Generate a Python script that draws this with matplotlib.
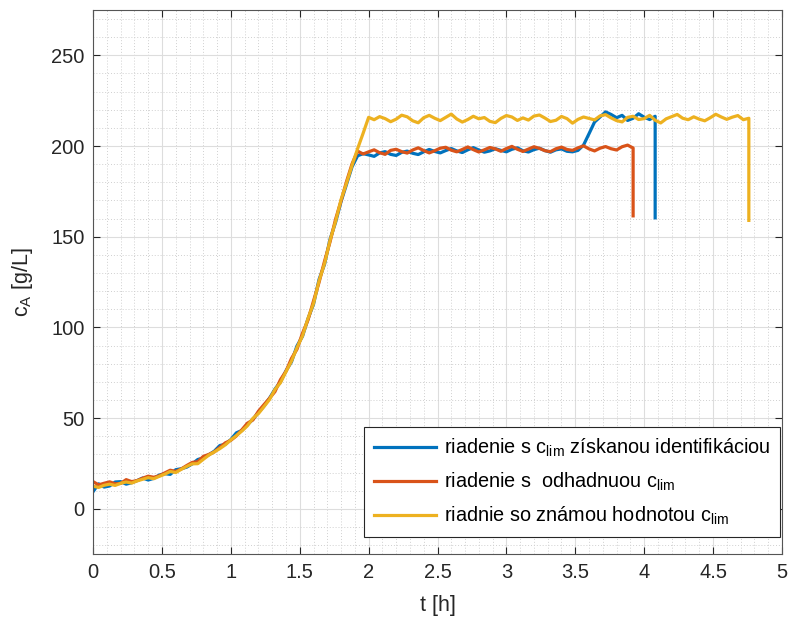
# Concentration c_A over time for three control strategies

import matplotlib.pyplot as plt
import numpy as np
from matplotlib.ticker import MultipleLocator

plt.rcParams["font.family"] = ["Liberation Sans", "DejaVu Sans"]
plt.rcParams["mathtext.fontset"] = "custom"
plt.rcParams["mathtext.rm"] = "Liberation Sans"
plt.rcParams["mathtext.it"] = "Liberation Sans"

dt = 0.04  # sampling step [h]

# riadenie s c_lim ziskanou identifikaciou
blue_vals = [
	9.5, 13.8, 12.0, 12.6, 14.8, 15.0, 13.6, 14.4, 15.6, 17.0,
	15.9, 16.8, 18.6, 19.4, 19.0, 21.6, 22.1, 23.0, 24.8, 27.2,
	28.1, 29.8, 31.8, 34.9, 35.6, 38.2, 41.9, 43.2, 46.3, 49.4,
	53.1, 56.6, 60.9, 66.0, 70.0, 76.1, 81.0, 89.8, 95.1, 104.8,
	112.8, 126.4, 134.8, 148.6, 157.9, 169.4, 179.0, 188.6,
	194.6, 195.8, 195.1, 194.3, 196.2, 196.9, 195.4, 194.8, 196.5, 197.2,
	196.0, 195.3, 196.8, 198.1, 197.0, 196.2, 197.5, 198.6, 197.3, 196.4,
	197.9, 199.1, 197.8, 196.6, 197.3, 198.5, 197.6, 196.8, 198.2, 199.0,
	197.4, 196.7, 198.0, 198.8, 197.5, 196.6, 197.9, 198.4, 197.1, 196.8, 197.6,
	200.5, 206.8, 213.2, 216.0, 218.8, 217.4, 215.6, 216.9, 214.1, 215.3,
	217.8, 215.9, 214.6, 216.4,
]
blue_drop = 160.4

# riadenie s odhadnuou c_lim
red_vals = [
	15.0, 13.2, 14.1, 14.9, 13.8, 14.0, 16.1, 15.0, 15.6, 16.9,
	18.0, 17.4, 18.2, 19.8, 21.3, 20.6, 22.0, 23.9, 25.6, 26.0,
	28.9, 30.0, 31.4, 33.9, 36.4, 37.8, 40.2, 43.6, 47.2, 49.0,
	53.8, 57.4, 60.9, 64.6, 71.2, 75.8, 82.9, 88.0, 96.8, 104.1,
	114.6, 124.8, 136.5, 147.2, 159.6, 169.8, 180.5, 190.2,
	197.2, 195.6, 196.8, 197.9, 196.3, 195.4, 197.6, 198.2, 196.9, 196.1,
	197.8, 199.0, 197.5, 196.2, 197.4, 198.8, 199.3, 197.7, 196.8, 198.1,
	199.5, 198.0, 196.7, 197.9, 199.2, 198.4, 197.1, 198.6, 199.8, 198.2,
	197.0, 198.3, 199.6, 198.7, 197.4, 196.9, 198.5, 199.4, 198.1, 197.6,
	199.0, 200.1, 198.4, 197.3, 198.8, 199.7, 198.5, 197.8, 199.6, 200.5, 198.9,
]
red_drop = 161.5

# riadnie so znamou hodnotou c_lim
yellow_vals = [
	12.5, 11.8, 13.0, 13.6, 12.9, 14.1, 14.8, 14.2, 15.4, 16.3,
	17.2, 16.6, 17.9, 19.1, 20.6, 20.0, 21.8, 23.4, 24.8, 24.9,
	27.3, 29.6, 31.4, 33.2, 35.3, 38.0, 40.4, 42.9, 45.8, 49.9,
	52.5, 56.3, 60.2, 65.8, 69.5, 75.6, 81.4, 88.9, 95.3, 105.0,
	113.2, 125.6, 135.2, 148.0, 158.4, 170.5, 179.6, 189.4,
	198.5, 207.0, 215.8,
	214.5, 216.2, 215.1, 213.4, 214.8, 217.0, 216.1, 213.9, 212.8, 215.6,
	216.9, 215.3, 214.0, 215.8, 217.6, 214.9, 213.2, 214.6, 216.4, 215.0,
	215.7, 213.6, 212.9, 215.2, 216.8, 216.0, 214.1, 215.5, 214.3, 216.5,
	217.1, 215.4, 213.5, 214.2, 216.3, 215.1, 212.6, 214.7, 216.0, 215.2,
	214.4, 216.6, 217.3, 215.5, 214.0, 213.3, 215.8, 216.4, 214.6, 215.1,
	216.9, 214.2, 212.7, 215.0, 216.2, 217.4, 215.3, 214.5, 216.1, 214.8,
	213.9, 215.6, 217.5, 216.0, 214.7, 215.9, 216.8, 214.5, 215.3,
]
yellow_drop = 159.0

labels = [
	r"riadenie s c$_{\mathrm{lim}}$ získanou identifikáciou",
	r"riadenie s  odhadnuou c$_{\mathrm{lim}}$",
	r"riadnie so známou hodnotou c$_{\mathrm{lim}}$",
]
colors = ["#0072BD", "#D95319", "#EDB120"]


def with_drop(vals, drop):
	t = np.arange(len(vals)) * dt
	return np.append(t, t[-1]), np.append(vals, drop)


fig = plt.figure(figsize = (7.89, 6.22), dpi = 100)
ax = fig.add_axes([0.118, 0.109, 0.873, 0.875])

series = [(blue_vals, blue_drop), (red_vals, red_drop), (yellow_vals, yellow_drop)]
for (vals, drop), col, lab in zip(series, colors, labels):
	t, v = with_drop(vals, drop)
	ax.plot(t, v, color = col, linewidth = 2.3, label = lab)

ax.set_xlim(0, 5)
ax.set_ylim(-25, 275)
ax.xaxis.set_minor_locator(MultipleLocator(0.1))
ax.yaxis.set_major_locator(MultipleLocator(50))
ax.yaxis.set_minor_locator(MultipleLocator(10))
ax.set_xticks(np.arange(0, 5.01, 0.5))
ax.set_xticklabels(["0", "0.5", "1", "1.5", "2", "2.5", "3", "3.5", "4", "4.5", "5"])

ax.grid(which = "major", color = "#dddddd", linewidth = 0.8)
ax.grid(which = "minor", color = "#d0d0d0", linewidth = 0.7, linestyle = (0, (1, 2)))
ax.set_axisbelow(True)

ax.tick_params(which = "both", direction = "in", top = True, right = True,
		colors = "#262626", labelsize = 14.5, pad = 6)
ax.tick_params(which = "major", length = 5)
ax.tick_params(which = "minor", length = 0)
for sp in ax.spines.values():
	sp.set_color("#555555")
	sp.set_linewidth(0.8)

ax.set_xlabel("t [h]", fontsize = 15.5, color = "#262626", labelpad = 10)
ax.set_ylabel(r"c$_{\mathrm{A}}$ [g/L]", fontsize = 15.5, color = "#262626", labelpad = 12)

leg = ax.legend(loc = "lower right", bbox_to_anchor = (0.997, 0.031), fontsize = 14.3,
		fancybox = False, edgecolor = "#262626", framealpha = 1, handlelength = 3.1,
		handletextpad = 0.4, borderaxespad = 0, labelspacing = 0.6, borderpad = 0.5)
leg.get_frame().set_linewidth(0.8)

plt.savefig("out.png")
